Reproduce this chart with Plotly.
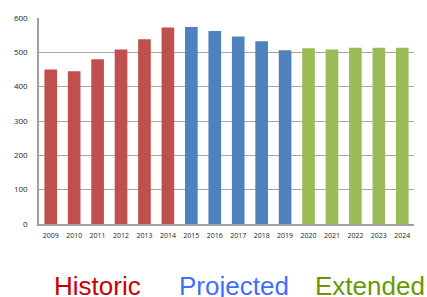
import plotly.graph_objects as go

years = [str(y) for y in range(2009, 2025)]
historic_years = years[0:6]
historic_vals = [450, 445, 480, 508, 538, 572]
projected_years = years[6:11]
projected_vals = [574, 562, 546, 532, 506]
extended_years = years[11:16]
extended_vals = [512, 508, 513, 513, 513]

fig = go.Figure()
fig.add_bar(x=historic_years, y=historic_vals, marker_color="#C0504D", marker_line_width=0, name="Historic")
fig.add_bar(x=projected_years, y=projected_vals, marker_color="#4F81BD", marker_line_width=0, name="Projected")
fig.add_bar(x=extended_years, y=extended_vals, marker_color="#9BBB59", marker_line_width=0, name="Extended")

fig.update_layout(
    width=427, height=297,
    margin=dict(l=39, r=13, t=18, b=73, autoexpand=False),
    paper_bgcolor="white", plot_bgcolor="white",
    showlegend=False,
    barmode="overlay",
    bargap=0.46,
    font=dict(family="Open Sans, sans-serif", size=7, color="#222222"),
)
fig.update_xaxes(
    type="category", categoryorder="array", categoryarray=years,
    showline=True, linecolor="#A0A0A0", linewidth=1.5,
    showgrid=False, ticks="", tickfont=dict(size=7), ticklabelstandoff=4,
    automargin=False,
)
fig.update_yaxes(
    range=[0, 600], dtick=100,
    showgrid=True, gridcolor="#A6A6A6", gridwidth=1.3,
    showline=True, linecolor="#A0A0A0", linewidth=1.5,
    ticks="", tickfont=dict(size=8), ticklabelstandoff=8,
    zeroline=False, automargin=False,
)

labels = [("Historic", 0.156, "#CC0000"), ("Projected", 0.521, "#3F6FFF"), ("Extended", 0.8835, "#669A00")]
for text, xp, col in labels:
    fig.add_annotation(text=text, x=xp, y=-0.30, xref="paper", yref="paper",
                       xanchor="center", yanchor="middle", showarrow=False,
                       font=dict(family="Liberation Sans, Arial, sans-serif", size=26, color=col))

fig.write_html("out.html",
               config={"displayModeBar": False},
               post_script="document.body.style.margin='0';document.body.style.overflow='hidden';")
